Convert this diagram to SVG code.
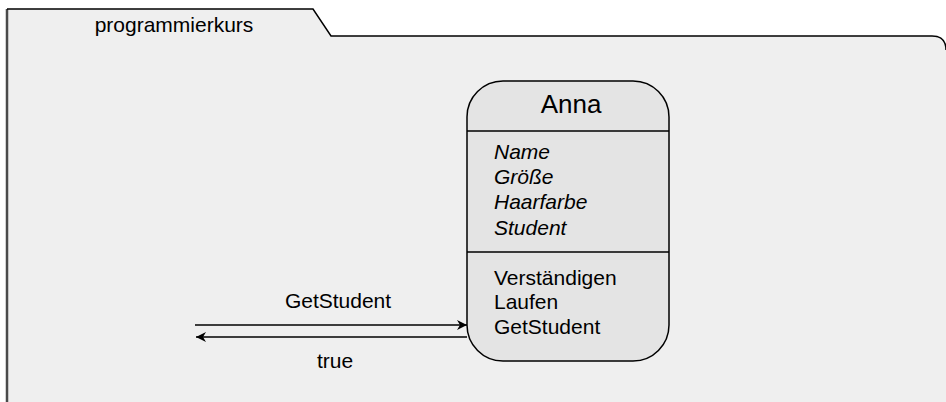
<svg xmlns="http://www.w3.org/2000/svg" width="946" height="402" viewBox="0 0 946 402">
  <style>
    text { font-family: "Liberation Sans", Arial, Helvetica, sans-serif; fill: #000; font-size: 21px; }
    .attr { font-style: italic; }
    .lbl { text-anchor: middle; }
    .edge { stroke: #000; stroke-width: 1.5; fill: none; }
  </style>
  <defs>
    <marker id="arrow" viewBox="0 0 10 10" refX="10" refY="5" markerWidth="10" markerHeight="10" markerUnits="userSpaceOnUse" orient="auto">
      <path d="M0,0 L10,5 L0,10 L3,5 Z" fill="#000"/>
    </marker>
  </defs>

  <rect width="946" height="402" fill="#ffffff"/>

  <!-- package frame with tab -->
  <g id="package">
    <path d="M7,420 L7,9 L313,9 L331,36 L932,36 Q946,36 946,50 L946,420 Z" fill="#efefef" stroke="none"/>
    <path d="M7,420 L7,9" stroke="#4a4a4a" stroke-width="2.5" fill="none"/>
    <path d="M7,9 L313,9 L331,36 L932,36 Q946,36 946,50" stroke="#000" stroke-width="1.5" fill="none"/>
    <text x="174" y="32" text-anchor="middle">programmierkurs</text>
  </g>

  <!-- object node -->
  <g id="anna">
    <rect x="467" y="81" width="202" height="280" rx="36" ry="36" fill="#e4e4e4" stroke="#000" stroke-width="1.5"/>
    <line x1="467" y1="131" x2="669" y2="131" stroke="#000" stroke-width="1.5"/>
    <line x1="467" y1="252" x2="669" y2="252" stroke="#000" stroke-width="1.5"/>
    <text x="571" y="113" style="font-size:26px" text-anchor="middle">Anna</text>
    <text class="attr" x="494" y="159">Name</text>
    <text class="attr" x="494" y="184">Größe</text>
    <text class="attr" x="494" y="209">Haarfarbe</text>
    <text class="attr" x="494" y="235">Student</text>
    <text x="494" y="285">Verständigen</text>
    <text x="494" y="309">Laufen</text>
    <text x="494" y="334">GetStudent</text>
  </g>

  <!-- messages -->
  <g id="connectors">
    <line class="edge" x1="195" y1="325" x2="467" y2="325" marker-end="url(#arrow)"/>
    <line class="edge" x1="467" y1="337" x2="196" y2="337" marker-end="url(#arrow)"/>
    <text class="lbl" x="338" y="308">GetStudent</text>
    <text class="lbl" x="335" y="368">true</text>
  </g>
</svg>
